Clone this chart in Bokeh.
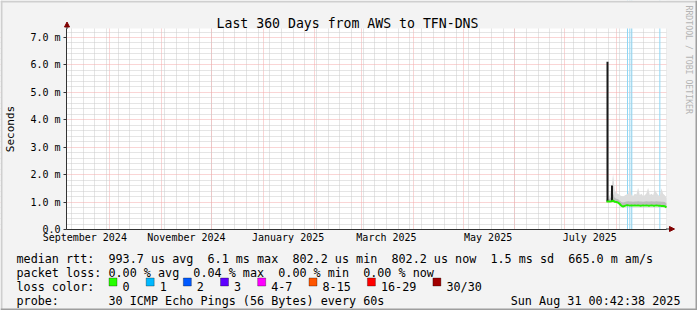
import pandas as pd
from math import pi
from bokeh.plotting import figure
from bokeh.models import (Range1d, FixedTicker, Grid, Label, BoxAnnotation,
                          Arrow, NormalHead, Span)
from bokeh.embed import file_html
from bokeh.resources import INLINE


def ms(s):
    return int(pd.Timestamp(s).value // 10**6)


MONO = "DejaVu Sans Mono"
BG = "#f3f3f3"

# ---------------- data ----------------
title_text = "Last 360 Days from AWS to TFN-DNS"
t_start = "2024-09-05 00:42:38"
t_end = "2025-08-31 00:42:38"

sample_days = pd.date_range("2025-07-26", "2025-08-31", freq="D")
median_ms = [1.02, 1.02, 1.02, 1.03, 1.05, 1.01, 1.00, 0.98, 0.93, 0.86,
             0.84, 0.86, 0.88, 0.88, 0.87, 0.88, 0.87, 0.88, 0.87, 0.88,
             0.87, 0.87, 0.88, 0.87, 0.88, 0.87, 0.87, 0.88, 0.87, 0.87,
             0.88, 0.87, 0.87, 0.86, 0.86, 0.85, 0.80]
smoke_mid_ms = [1.08, 1.10, 1.12, 1.20, 1.30, 1.15, 1.12, 1.10, 1.05, 1.00,
                0.98, 1.00, 1.02, 1.03, 1.02, 1.02, 1.01, 1.02, 1.02, 1.03,
                1.02, 1.02, 1.01, 1.02, 1.03, 1.02, 1.02, 1.03, 1.02, 1.02,
                1.03, 1.02, 1.02, 1.01, 1.01, 1.00, 0.95]
smoke_hi_ms = [1.12, 1.18, 1.25, 1.50, 2.02, 1.42, 1.32, 1.30, 1.25, 1.22,
               1.20, 1.24, 1.28, 1.30, 1.55, 1.26, 1.22, 1.30, 1.28, 1.52,
               1.26, 1.30, 1.22, 1.25, 1.32, 1.52, 1.26, 1.30, 1.25, 1.45,
               1.35, 1.26, 1.22, 1.50, 1.30, 1.25, 1.15]

spike_times = ["2025-07-26 15:00", "2025-07-29 08:00"]
spike_base_ms = [1.02, 1.03]
spike_top_ms = [6.12, 1.60]

loss_times = ["2025-08-07 15:00", "2025-08-09 01:00",
              "2025-08-10 05:00", "2025-08-27 01:00"]

y_ticks = [0, 1, 2, 3, 4, 5, 6, 7]
y_tick_labels = ["0.0", "1.0 m", "2.0 m", "3.0 m", "4.0 m", "5.0 m", "6.0 m", "7.0 m"]
y_minor = [0.2, 0.4, 0.6, 0.8, 1.2, 1.4, 1.6, 1.8, 2.2, 2.4, 2.6, 2.8,
           3.2, 3.4, 3.6, 3.8, 4.2, 4.4, 4.6, 4.8, 5.2, 5.4, 5.6, 5.8,
           6.2, 6.4, 6.6, 6.8, 7.2]
y_top = 7.328

x_label_dates = ["2024-09-16", "2024-11-16", "2025-01-16",
                 "2025-03-16", "2025-05-16", "2025-07-16"]
x_tick_labels = ["September 2024", "November 2024", "January 2025",
                 "March 2025", "May 2025", "July 2025"]

row1 = "median rtt:  993.7 us avg  6.1 ms max  802.2 us min  802.2 us now  1.5 ms sd  665.0 m am/s"
row2 = "packet loss: 0.00 % avg  0.04 % max  0.00 % min  0.00 % now"
row3 = "loss color:"
row4 = "probe:       30 ICMP Echo Pings (56 Bytes) every 60s"
stamp = "Sun Aug 31 00:42:38 2025"
watermark = "RRDTOOL / TOBI OETIKER"

loss_labels = ["0", "1", "2", "3", "4-7", "8-15", "16-29", "30/30"]
loss_colors = ["#26ff00", "#00b8ff", "#0059ff", "#5e00ff",
               "#ff00ff", "#ff5500", "#ff0000", "#a10000"]

# ---------------- geometry ----------------
CW, CH = 697, 310               # canvas
X0, X1 = 66, 666                # pixels of t_start / t_end
Y0, YT = 229, 28                # pixels of 0 and y_top
t0, t1 = ms(t_start), ms(t_end)
mpp = (t1 - t0) / (X1 - X0)     # ms per pixel
upp = y_top / (Y0 - YT)         # value per pixel


def sx(X):
    return X


def sy(Y):
    return CH - Y


p = figure(width=CW, height=CH, x_axis_type="datetime",
           output_backend="svg", toolbar_location=None, title=None,
           x_range=Range1d(t0 - X0 * mpp, t0 + (CW - X0) * mpp),
           y_range=Range1d(-(CH - Y0) * upp, Y0 * upp),
           min_border=0, min_border_left=0, min_border_right=0,
           min_border_top=0, min_border_bottom=0)
p.background_fill_color = "white"
p.border_fill_color = BG
p.outline_line_color = None
p.xgrid.grid_line_color = None
p.ygrid.grid_line_color = None

month_starts = [ms(d) for d in pd.date_range("2024-10-01", "2025-08-01", freq="MS")]
week_lines = [ms(d) for d in pd.date_range("2024-09-08", "2025-08-31", freq="7D")]
grid_style = dict(grid_line_color="#f4aaaa", grid_line_dash="1 1", grid_line_width=1,
                  minor_grid_line_color="#cbcbcb", minor_grid_line_dash="1 1",
                  minor_grid_line_width=1)
p.add_layout(Grid(dimension=0, ticker=FixedTicker(ticks=month_starts, minor_ticks=week_lines),
                  **grid_style))
p.add_layout(Grid(dimension=1, ticker=FixedTicker(ticks=y_ticks, minor_ticks=y_minor),
                  **grid_style))

# loss markers (full height)
for t in loss_times:
    p.add_layout(Span(location=ms(t), dimension="height", line_color="#8fd6f4",
                      line_width=1, level="underlay"))

# paint everything outside the graph area back to the canvas colour
for kw in (dict(right=t0), dict(left=t1), dict(bottom=y_top), dict(top=0)):
    p.add_layout(BoxAnnotation(fill_color=BG, fill_alpha=1, line_color=None,
                               level="underlay", **kw))

# axes (placed inside the full-canvas frame)
xa = p.xaxis[0]
xa.fixed_location = 0
xa.ticker = FixedTicker(ticks=[ms(d) for d in x_label_dates])
xa.major_label_overrides = {ms(d): t for d, t in zip(x_label_dates, x_tick_labels)}
xa.major_tick_out = 0
xa.major_tick_in = 0
xa.minor_tick_out = 0
xa.minor_tick_in = 0
xa.major_label_standoff = 2
xa.axis_line_color = "#333333"
xa.bounds = (t0, t1)

ya = p.yaxis[0]
ya.fixed_location = t0
ya.ticker = FixedTicker(ticks=y_ticks)
ya.major_label_overrides = {v: t for v, t in zip(y_ticks, y_tick_labels)}
ya.major_tick_out = 3
ya.major_tick_in = 0
ya.minor_tick_out = 0
ya.minor_tick_in = 0
ya.major_tick_line_color = "#333333"
ya.major_label_standoff = 3
ya.axis_line_color = "#333333"
ya.bounds = (0, y_top)
ya.axis_label = "Seconds"
ya.axis_label_text_font = MONO
ya.axis_label_text_font_size = "11px"
ya.axis_label_text_font_style = "normal"
ya.axis_label_text_color = "black"
ya.axis_label_standoff = 10

for ax in (xa, ya):
    ax.major_label_text_font = MONO
    ax.major_label_text_font_size = "10px"
    ax.major_label_text_color = "black"

# smoke, spikes, median
xs = [ms(d) for d in sample_days]
p.varea(x=xs, y1=median_ms, y2=smoke_hi_ms, fill_color="#dddddd")
p.varea(x=xs, y1=median_ms, y2=smoke_mid_ms, fill_color="#bcbcbc")
p.segment(x0=[ms(t) for t in spike_times], y0=spike_base_ms,
          x1=[ms(t) for t in spike_times], y1=spike_top_ms,
          line_color="#1a1a1a", line_width=2)
p.line(x=xs, y=median_ms, line_color="#22ee00", line_width=2)

# axis arrows
p.add_layout(Arrow(end=NormalHead(size=5, fill_color="#800000", line_color="#800000"),
                   x_start=sx(66.5), y_start=sy(28.5), x_end=sx(66.5), y_end=sy(21.5),
                   start_units="screen", end_units="screen",
                   line_color="#333333", line_width=1))
p.add_layout(Arrow(end=NormalHead(size=5, fill_color="#800000", line_color="#800000"),
                   x_start=sx(665.5), y_start=sy(228.5), x_end=sx(674), y_end=sy(228.5),
                   start_units="screen", end_units="screen",
                   line_color="#333333", line_width=1))

# title / watermark
p.add_layout(Label(x=sx(347), y=sy(23.3), text=title_text, x_units="screen", y_units="screen",
                   text_align="center", text_baseline="alphabetic",
                   text_font=MONO, text_font_size="13.2px", text_color="black"))
p.add_layout(Label(x=sx(688.5), y=sy(5), text=watermark, x_units="screen", y_units="screen",
                   angle=-pi / 2, text_align="left", text_baseline="middle",
                   text_font=MONO, text_font_size="8.2px", text_color="#b4b4b4"))

# legend rows (non-breaking spaces keep the monospace columns)
NB = "\u00a0"
W = 7.08
FS = "11.75px"
baselines = [258.0, 272.2, 286.4, 300.6]
for txt, bl in zip([row1, row2, row3, row4], baselines):
    p.add_layout(Label(x=sx(16), y=sy(bl), text=txt.replace(" ", NB),
                       x_units="screen", y_units="screen", text_align="left",
                       text_baseline="alphabetic", text_font=MONO,
                       text_font_size=FS, text_color="black"))
p.add_layout(Label(x=sx(680), y=sy(baselines[3]), text=stamp.replace(" ", NB),
                   x_units="screen", y_units="screen", text_align="right",
                   text_baseline="alphabetic", text_font=MONO,
                   text_font_size=FS, text_color="black"))

pos = 108.5
for lab, col in zip(loss_labels, loss_colors):
    p.add_layout(BoxAnnotation(left=sx(pos), right=sx(pos + 8), top=sy(277.5), bottom=sy(285.5),
                               left_units="screen", right_units="screen",
                               top_units="screen", bottom_units="screen",
                               fill_color=col, fill_alpha=1, line_color="black",
                               line_width=1, level="annotation"))
    p.add_layout(Label(x=sx(pos + 13.5), y=sy(baselines[2]), text=lab,
                       x_units="screen", y_units="screen", text_align="left",
                       text_baseline="alphabetic", text_font=MONO,
                       text_font_size=FS, text_color="black"))
    pos += (len(lab) + 4.25) * W

# outer 3D frame shades
shades = [(0, 697, 0, 2, "#cfcfcf"), (0, 2, 0, 310, "#cfcfcf"),
          (695, 697, 0, 310, "#9e9e9e"), (0, 697, 308, 310, "#9e9e9e")]
for l, r, t, b, c in shades:
    p.add_layout(BoxAnnotation(left=sx(l), right=sx(r), top=sy(t), bottom=sy(b),
                               left_units="screen", right_units="screen",
                               top_units="screen", bottom_units="screen",
                               fill_color=c, fill_alpha=1, line_color=None,
                               level="overlay"))

open("out.html", "w").write(file_html(p, INLINE))
